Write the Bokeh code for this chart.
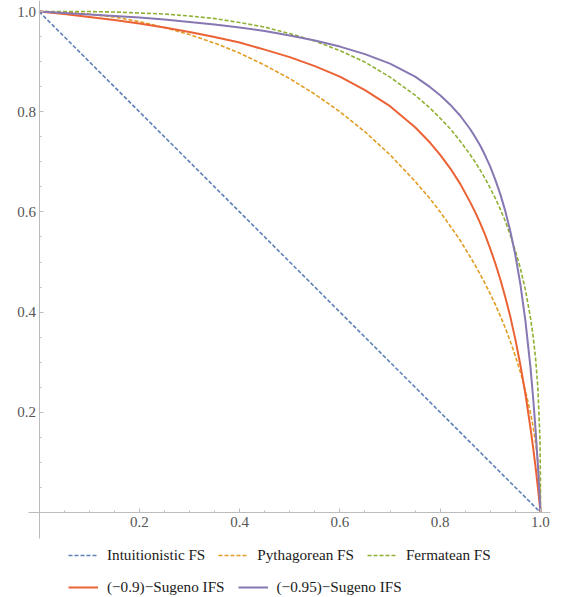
from bokeh.plotting import figure
from bokeh.models import Legend, LegendItem, FixedTicker, PrintfTickFormatter, Range1d
from bokeh.embed import file_html
from bokeh.resources import INLINE

# ---- data ----
x_int = [0.0, 1.0]
y_int = [1.0, 0.0]

x_grid = [0.0, 0.05, 0.1, 0.15, 0.2, 0.25, 0.3, 0.35, 0.4, 0.45, 0.5, 0.55, 0.6,
          0.65, 0.7, 0.75, 0.78, 0.8, 0.82, 0.84, 0.86, 0.87, 0.88, 0.89, 0.9,
          0.91, 0.92, 0.93, 0.94, 0.95, 0.96, 0.97, 0.98, 0.985, 0.99, 0.995,
          0.999, 0.9999, 1.0]

y_pyth = [1.0, 0.999, 0.995, 0.989, 0.980, 0.968, 0.954, 0.937, 0.917, 0.893, 0.866,
          0.835, 0.800, 0.760, 0.714, 0.661, 0.626, 0.600, 0.572, 0.543, 0.510,
          0.493, 0.475, 0.456, 0.436, 0.415, 0.392, 0.368, 0.341, 0.312, 0.280,
          0.243, 0.199, 0.173, 0.141, 0.100, 0.045, 0.014, 0.0]

y_ferm = [1.0, 1.000, 1.000, 0.999, 0.997, 0.995, 0.991, 0.986, 0.978, 0.969, 0.956,
          0.941, 0.922, 0.899, 0.869, 0.833, 0.807, 0.787, 0.766, 0.741, 0.714,
          0.699, 0.683, 0.666, 0.647, 0.627, 0.605, 0.581, 0.553, 0.522, 0.487,
          0.444, 0.389, 0.354, 0.310, 0.246, 0.144, 0.067, 0.0]

y_sug90 = [1.0, 0.995, 0.989, 0.983, 0.976, 0.968, 0.959, 0.949, 0.938, 0.924, 0.909,
           0.891, 0.870, 0.843, 0.811, 0.769, 0.738, 0.714, 0.687, 0.656, 0.619,
           0.599, 0.577, 0.553, 0.526, 0.497, 0.465, 0.429, 0.390, 0.345, 0.294,
           0.236, 0.169, 0.132, 0.092, 0.048, 0.010, 0.001, 0.0]

y_sug95 = [1.0, 0.997, 0.994, 0.991, 0.988, 0.984, 0.979, 0.974, 0.968, 0.961, 0.952,
           0.942, 0.930, 0.915, 0.896, 0.870, 0.849, 0.833, 0.814, 0.792, 0.765,
           0.749, 0.732, 0.712, 0.690, 0.664, 0.635, 0.601, 0.561, 0.513, 0.455,
           0.382, 0.290, 0.233, 0.168, 0.091, 0.020, 0.002, 0.0]

major_ticks = [0.2, 0.4, 0.6, 0.8, 1.0]
minor_ticks = [0.05, 0.1, 0.15, 0.25, 0.3, 0.35, 0.45, 0.5, 0.55, 0.65, 0.7, 0.75,
               0.85, 0.9, 0.95]

labels_row1 = ["Intuitionistic FS", "Pythagorean FS", "Fermatean FS"]
labels_row2 = ["(\u22120.9)\u2212Sugeno IFS", "(\u22120.95)\u2212Sugeno IFS"]

colors = ["#5E81B5", "#E19C24", "#8FB032", "#EB6235", "#8778B3"]
SERIF = "Liberation Serif"

# ---- figure ----
p = figure(frame_width=561, frame_height=597,
           x_range=Range1d(-0.0768, 1.0419), y_range=Range1d(-0.1697, 1.022),
           output_backend="svg", toolbar_location=None,
           min_border_left=0, min_border_right=0, min_border_top=0,
           min_border_bottom=0)
p.outline_line_color = None
p.xgrid.visible = False
p.ygrid.visible = False
p.background_fill_color = "white"
p.border_fill_color = "white"

r1 = p.line(x_int, y_int, line_color=colors[0], line_width=1.6, line_dash="4 2")
r2 = p.line(x_grid, y_pyth, line_color=colors[1], line_width=1.6, line_dash="4 2")
r3 = p.line(x_grid, y_ferm, line_color=colors[2], line_width=1.6, line_dash="4 2")
r4 = p.line(x_grid, y_sug90, line_color=colors[3], line_width=2)
r5 = p.line(x_grid, y_sug95, line_color=colors[4], line_width=2)

for ax, bnds in ((p.xaxis[0], (-0.02, 1.02)), (p.yaxis[0], (-0.052, 1.022))):
    ax.fixed_location = 0
    ax.bounds = bnds
    ax.ticker = FixedTicker(ticks=major_ticks, minor_ticks=minor_ticks)
    ax.formatter = PrintfTickFormatter(format="%.1f")
    ax.axis_line_color = "#bcbcbc"
    ax.major_tick_line_color = "#bcbcbc"
    ax.minor_tick_line_color = "#bcbcbc"
    ax.major_tick_in = 4
    ax.major_tick_out = 0
    ax.minor_tick_in = 2
    ax.minor_tick_out = 0
    ax.major_label_text_font = SERIF
    ax.major_label_text_font_size = "15px"
    ax.major_label_text_color = "#555555"
p.xaxis[0].major_label_standoff = 5
p.yaxis[0].major_label_standoff = 3

def make_legend(items, loc):
    return Legend(items=items, orientation="horizontal", location=loc,
                  glyph_width=30, glyph_height=20, label_height=20,
                  label_standoff=9, spacing=13, padding=0, margin=0,
                  border_line_color=None, background_fill_alpha=0,
                  label_text_font=SERIF, label_text_font_size="15.2px",
                  label_text_color="#1a1a1a")

leg1 = make_legend([LegendItem(label=labels_row1[0], renderers=[r1]),
                    LegendItem(label=labels_row1[1], renderers=[r2]),
                    LegendItem(label=labels_row1[2], renderers=[r3])], (68, 32))
leg2 = make_legend([LegendItem(label=labels_row2[0], renderers=[r4]),
                    LegendItem(label=labels_row2[1], renderers=[r5])], (68, 0))
p.add_layout(leg1, "center")
p.add_layout(leg2, "center")

open("out.html", "w").write(file_html(p, INLINE))
